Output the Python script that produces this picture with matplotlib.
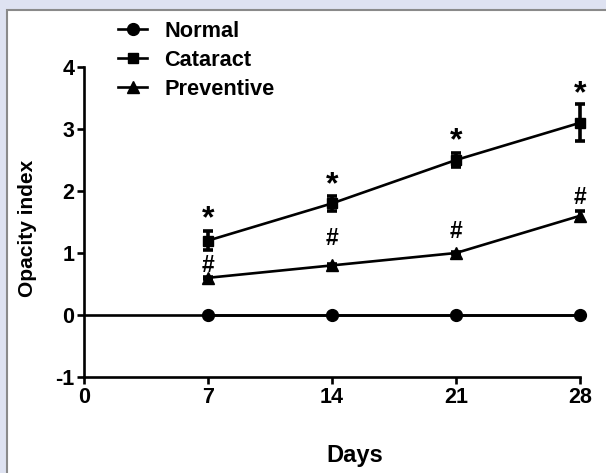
import matplotlib.pyplot as plt
from matplotlib.lines import Line2D
from matplotlib.patches import Rectangle

plt.rcParams['font.family'] = ['Liberation Sans', 'DejaVu Sans']
plt.rcParams['font.weight'] = 'bold'
plt.rcParams['axes.unicode_minus'] = False

days = [7, 14, 21, 28]
normal = [0, 0, 0, 0]
cataract = [1.2, 1.8, 2.5, 3.1]
cataract_err = [0.15, 0.12, 0.12, 0.3]
preventive = [0.6, 0.8, 1.0, 1.6]
preventive_err = [0.02, 0.02, 0.02, 0.08]
star_y = [1.55, 2.1, 2.8, 3.56]
hash_y = [0.8, 1.24, 1.34, 1.9]

fig = plt.figure(figsize=(6.06, 4.73), dpi=100)
fig.patch.set_facecolor('#dee2f1')
fig.patches.append(Rectangle((7 / 606, -0.1), 1.2, 1 - 10 / 473 + 0.1, transform=fig.transFigure,
                             facecolor='white', edgecolor='#8a8a8a', lw=1.5, zorder=-5))

ax = fig.add_axes([84 / 606, 96 / 473, 496 / 606, 310 / 473])
ax.set_facecolor('none')

lw = 1.9
ax.axhline(0, color='black', lw=lw, zorder=2)
ax.plot(days, normal, color='black', lw=lw, marker='o', ms=8.5, clip_on=False, zorder=3)
ax.errorbar(days, cataract, yerr=cataract_err, color='black', lw=lw, marker='s', ms=7.5,
            elinewidth=2.6, capsize=3.8, capthick=2.6, clip_on=False, zorder=3)
ax.errorbar(days, preventive, yerr=preventive_err, color='black', lw=lw, marker='^', ms=8,
            elinewidth=2.6, capsize=3.8, capthick=2.6, clip_on=False, zorder=3)

for x, y in zip(days, star_y):
    ax.text(x, y, '*', ha='center', va='center', fontsize=23, fontweight='bold')
for x, y in zip(days, hash_y):
    ax.text(x, y, '#', ha='center', va='center', fontsize=16.5, fontweight='bold')

ax.set_xlim(0, 28)
ax.set_ylim(-1, 4)
ax.set_xticks([0, 7, 14, 21, 28])
ax.set_yticks([-1, 0, 1, 2, 3, 4])
ax.spines['top'].set_visible(False)
ax.spines['right'].set_visible(False)
for s in ['left', 'bottom']:
    ax.spines[s].set_linewidth(lw)
ax.tick_params(width=lw, length=5, labelsize=15.5, pad=2)

ax.set_xlabel('Days', fontsize=17, fontweight='bold')
ax.xaxis.set_label_coords(0.546, -0.215)
ax.set_ylabel('Opacity index', fontsize=15, fontweight='bold')
ax.yaxis.set_label_coords(-0.095, 0.48)

handles = [Line2D([], [], color='black', lw=lw, marker='o', ms=8.5),
           Line2D([], [], color='black', lw=lw, marker='s', ms=7.5),
           Line2D([], [], color='black', lw=lw, marker='^', ms=8)]
labels = ['Normal', 'Cataract', 'Preventive']
ax.legend(handles, labels, loc='upper left', bbox_to_anchor=(118 / 606, 1 - 20.5 / 473),
          bbox_transform=fig.transFigure, frameon=False, fontsize=15.7,
          handlelength=1.33, handletextpad=0.78, labelspacing=0.38, borderpad=0,
          borderaxespad=0)

fig.savefig('out.png', dpi=100, facecolor=fig.get_facecolor())
